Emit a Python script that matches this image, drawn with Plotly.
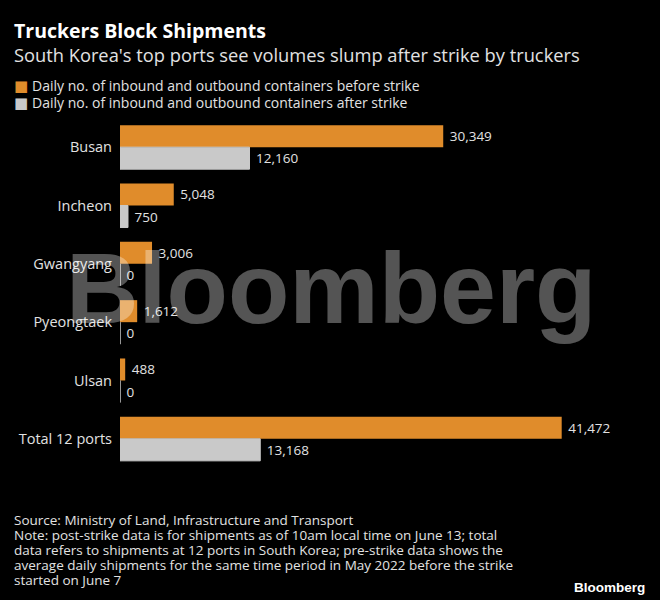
import plotly.graph_objects as go

ports = ["Busan", "Incheon", "Gwangyang", "Pyeongtaek", "Ulsan", "Total 12 ports"]
before = [30349, 5048, 3006, 1612, 488, 41472]
after = [12160, 750, 0, 0, 0, 13168]
before_name = "Daily no. of inbound and outbound containers before strike"
after_name = "Daily no. of inbound and outbound containers after strike"

title = "Truckers Block Shipments"
subtitle = "South Korea's top ports see volumes slump after strike by truckers"
footer_lines = [
    "Source: Ministry of Land, Infrastructure and Transport",
    "Note: post-strike data is for shipments as of 10am local time on June 13; total",
    "data refers to shipments at 12 ports in South Korea; pre-strike data shows the",
    "average daily shipments for the same time period in May 2022 before the strike",
    "started on June 7",
]

FONT = "Open Sans"
ORANGE = "#e08c2b"
GRAY = "#c9c9c9"
TXT = "#e2e2e2"

W, H = 660, 600
ML, MR, MT, MB = 120, 20, 118, 132
PW, PH = W - ML - MR, H - MT - MB
XMAX = 41472 * PW / 441.7


def px(x):
    return (x - ML) / PW


def py(y):
    return (H - MB - y) / PH


fig = go.Figure()
fig.add_bar(y=ports, x=before, orientation="h", name=before_name,
            marker=dict(color=ORANGE, line=dict(width=0)),
            texttemplate="\u00a0%{x:,}", textposition="outside",
            textfont=dict(color=TXT, size=13.5, family=FONT), cliponaxis=False)
fig.add_bar(y=ports, x=after, orientation="h", name=after_name,
            marker=dict(color=GRAY, line=dict(color=GRAY, width=1)),
            texttemplate="\u00a0%{x:,}", textposition="outside",
            textfont=dict(color=TXT, size=13.5, family=FONT), cliponaxis=False)

fig.update_layout(
    width=W, height=H,
    paper_bgcolor="#000000", plot_bgcolor="#000000",
    font=dict(family=FONT, color=TXT, size=13),
    margin=dict(l=ML, r=MR, t=MT, b=MB, autoexpand=False),
    barmode="group", bargap=0.245, bargroupgap=0,
    showlegend=False,
    xaxis=dict(range=[0, XMAX], visible=False, fixedrange=True, automargin=False),
    yaxis=dict(autorange="reversed", showgrid=False, zeroline=False, showline=False,
               ticks="", automargin=False, ticklabelstandoff=7,
               tickfont=dict(size=14.5, color=TXT, family=FONT)),
)


def ann(text, x, y, size, color=TXT, family=FONT, xanchor="left", yanchor="middle"):
    fig.add_annotation(text=text, xref="paper", yref="paper", x=px(x), y=py(y),
                       showarrow=False, xanchor=xanchor, yanchor=yanchor,
                       borderpad=0, font=dict(size=size, color=color, family=family))


ann(f"<b>{title}</b>", 13, 31, 19.5, color="#ffffff")
ann(subtitle, 13, 54, 18.3)
# legend
ann("\u25a0", 21, 85.5, 15, color=ORANGE, family="DejaVu Sans", xanchor="center")
ann(before_name, 31, 85.5, 14)
ann("\u25a0", 21, 102.5, 15, color=GRAY, family="DejaVu Sans", xanchor="center")
ann(after_name, 31, 102.5, 14)
# footer
for i, line in enumerate(footer_lines):
    ann(line, 13, 520 + 15 * i, 13.5)
ann("<b>Bloomberg</b>", 646, 587.5, 13.5, color="#ffffff", family="Liberation Sans",
    xanchor="right")
# watermark
ann("<b>Bloomberg</b>", 330.5, 288, 100.5, color="rgba(255,255,255,0.33)",
    family="Liberation Sans", xanchor="center")

fig.write_html("out.html")
